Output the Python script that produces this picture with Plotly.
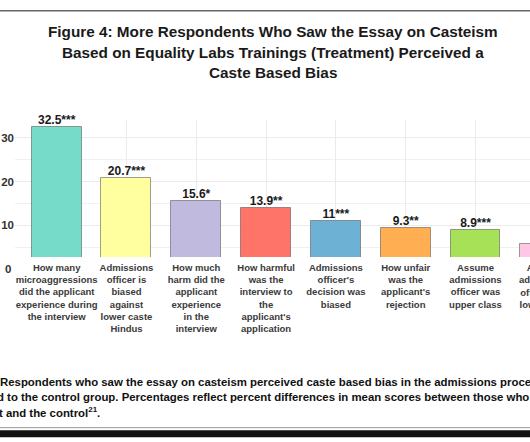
import plotly.graph_objects as go

# ---- data ----
categories = [
    "How many<br>microaggressions<br>did the applicant<br>experience during<br>the interview",
    "Admissions<br>officer is<br>biased<br>against<br>lower caste<br>Hindus",
    "How much<br>harm did the<br>applicant<br>experience<br>in the<br>interview",
    "How harmful<br>was the<br>interview to<br>the<br>applicant's<br>application",
    "Admissions<br>officer's<br>decision was<br>biased",
    "How unfair<br>was the<br>applicant's<br>rejection",
    "Assume<br>admissions<br>officer was<br>upper class",
    "Assume<br>admissions<br>officer was<br>lower class",
]
values = [32.5, 20.7, 15.6, 13.9, 11.0, 9.3, 8.9, 5.7]
stars = ["***", "***", "*", "**", "***", "**", "***", "*"]
value_labels = ["32.5", "20.7", "15.6", "13.9", "11", "9.3", "8.9", "5.7"]
colors = ["#76DBC8", "#FFFFA0", "#C0BADE", "#FF7469", "#6DB1D5", "#FFAF52", "#A6E157", "#FFC6E6"]
y_ticks = [0, 10, 20, 30]
y_minor = [5, 15, 25]

title_lines = [
    "Figure 4: More Respondents Who Saw the Essay on Casteism",
    "Based on Equality Labs Trainings (Treatment) Perceived a",
    "Caste Based Bias",
]
note_lines = [
    "Respondents who saw the essay on casteism perceived caste based bias in the admissions process",
    "d to the control group. Percentages reflect percent differences in mean scores between those who saw the",
    "t and the control<sup>21</sup>.",
]

# ---- layout geometry (pixels) ----
W, H = 530, 442
PL, PT, PB = 15, 120, 256.7
Y_RANGE = [2.8, 34.0]
X_RANGE = [-0.597, 6.781]
FONT = "Liberation Sans, Arial, sans-serif"
CAT_FONT = dict(family=FONT, size=9.5, color="#3a3a3a", weight="bold")


def py(pix):
    """pixel row -> paper y"""
    return (PB - pix) / (PB - PT)


def px(pix):
    """pixel column -> paper x"""
    return (pix - PL) / (W - PL)


def x_to_paper(xv):
    return (xv - X_RANGE[0]) / (X_RANGE[1] - X_RANGE[0])


xs = list(range(len(categories)))
labels = [v + s for v, s in zip(value_labels, stars)]

fig = go.Figure()
fig.add_trace(go.Bar(
    x=xs, y=values, width=0.716,
    marker=dict(color=colors, line=dict(color="rgba(80,80,80,0.55)", width=1)),
    hoverinfo="skip",
))
fig.add_trace(go.Scatter(
    x=xs, y=values, mode="text", text=labels, textposition="top center",
    textfont=dict(family=FONT, size=12, color="#1a1a1a", weight="bold"),
    cliponaxis=False, hoverinfo="skip",
))

annotations = []
for i, t in enumerate(note_lines):
    annotations.append(dict(
        xref="paper", yref="paper", x=px([-2, -5, -3][i]), y=py([381.7, 396.7, 411.7][i]),
        xanchor="left", yanchor="middle", text=t, showarrow=False,
        font=dict(family=FONT, size=11.4, color="#111111", weight="bold"),
    ))
# title lines
for i, t in enumerate(title_lines):
    annotations.append(dict(
        xref="paper", yref="paper", x=px(273), y=py([32, 52.5, 73][i]),
        xanchor="center", yanchor="middle", text=t, showarrow=False,
        font=dict(family=FONT, size=15.3, color="#1a1a1a", weight="bold"),
    ))
# zero tick label (below clipped range)
annotations.append(dict(
    xref="paper", yref="paper", x=px(13), y=py(269), xanchor="right", yanchor="middle",
    text="0", showarrow=False, font=dict(family=FONT, size=11.5, color="#333333", weight="bold"),
))
# category labels whose tick falls past the visible x range (partly visible at the edge)
for i in xs:
    if i > X_RANGE[1]:
        annotations.append(dict(
            xref="paper", yref="paper", x=x_to_paper(i), y=py(260.5),
            xanchor="center", yanchor="top", text=categories[i], showarrow=False,
            font=CAT_FONT, borderpad=0,
        ))

shapes = [
    dict(type="line", xref="paper", yref="paper", x0=px(-5), x1=px(540), y0=py(11), y1=py(11),
         line=dict(color="#666666", width=1.5)),
    dict(type="line", xref="paper", yref="paper", x0=px(-5), x1=px(540), y0=py(427), y1=py(427),
         line=dict(color="#9a9a9a", width=1)),
    dict(type="rect", xref="paper", yref="paper", x0=px(-5), x1=px(540), y0=py(429.5), y1=py(436.5),
         fillcolor="#111111", line=dict(width=0)),
]

fig.update_layout(
    width=W, height=H,
    margin=dict(l=PL, r=0, t=PT, b=H - PB, pad=0),
    paper_bgcolor="white", plot_bgcolor="white",
    showlegend=False,
    annotations=annotations, shapes=shapes,
    xaxis=dict(
        range=X_RANGE, tickmode="array", tickvals=xs, ticktext=categories,
        showgrid=True, gridcolor="#ebebeb", gridwidth=1, zeroline=False, showline=False,
        ticks="", tickfont=CAT_FONT, tickangle=0, ticklabelstandoff=3,
    ),
    yaxis=dict(
        range=Y_RANGE, tickmode="array", tickvals=y_ticks, ticktext=[str(t) for t in y_ticks],
        showgrid=True, gridcolor="#ebebeb", gridwidth=1, zeroline=False, showline=False,
        ticks="", tickfont=dict(family=FONT, size=11.5, color="#333333", weight="bold"),
        minor=dict(tickvals=y_minor, showgrid=True, gridcolor="#f0f0f0", gridwidth=1),
    ),
    bargap=0,
)

fig.write_html(
    "out.html",
    config={"displayModeBar": False},
    post_script="document.body.style.margin='0';document.body.style.overflow='hidden';",
)
